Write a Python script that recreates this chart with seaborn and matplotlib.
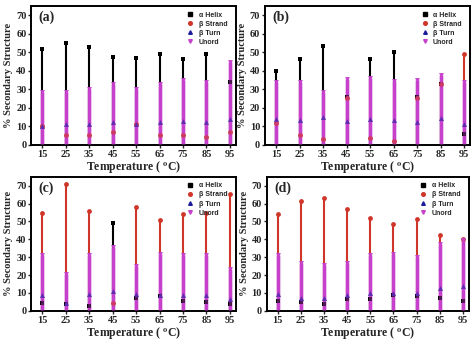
import matplotlib
matplotlib.use("Agg")
import matplotlib.pyplot as plt
from matplotlib.lines import Line2D
import numpy as np
import pandas as pd
import seaborn as sns

# Temperatures (°C)
temps = [15, 25, 35, 45, 55, 65, 75, 85, 95]

# Panel (a)
a_helix = [52, 55, 53, 47.5, 47, 49, 46.5, 49, 34]
a_strand = [10, 5.5, 5.5, 7, 11.5, 5.5, 5.5, 4.5, 7]
a_turn = [10, 11, 11.5, 12.5, 11.5, 12.5, 13, 12.5, 14]
a_unord = [28.5, 28.5, 30, 33, 30, 33, 35, 34, 45]

# Panel (b)
b_helix = [40, 46.5, 53.5, 26, 46.5, 50, 26, 33, 6]
b_strand = [12, 5.5, 3, 25.5, 3.5, 2, 25.5, 33, 49]
b_turn = [14, 13.5, 15, 13, 14, 13.5, 12.5, 14.5, 11]
b_unord = [34, 34, 28.5, 35.5, 36, 34.5, 35, 37.5, 34]

# Panel (c)
c_helix = [4.5, 4, 2.5, 49, 7, 8.5, 5.5, 5, 4]
c_strand = [55, 71, 56, 4.5, 58, 51, 54, 54.5, 65.5]
c_turn = [9, 4.5, 9.5, 11, 9.5, 9, 9, 9, 6.5]
c_unord = [31, 20.5, 31, 35.5, 25, 31.5, 31, 31, 23.5]

# Panel (d)
d_helix = [5.5, 5, 4, 6.5, 6.5, 9, 8.5, 7, 5.5]
d_strand = [54, 61.5, 63, 57, 52, 48.5, 51.5, 42.5, 40]
d_turn = [9.5, 7, 7, 9, 10, 10, 10, 13, 14]
d_unord = [31, 26.5, 25.5, 27, 31, 32, 30, 37.5, 39.5]

series_names = ["\u03b1 Helix", "\u03b2 Strand", "\u03b2 Turn", "Unord"]
panel_labels = ["(a)", "(b)", "(c)", "(d)"]
panels = [
    [a_helix, a_strand, a_turn, a_unord],
    [b_helix, b_strand, b_turn, b_unord],
    [c_helix, c_strand, c_turn, c_unord],
    [d_helix, d_strand, d_turn, d_unord],
]

colors = ["#000000", "#d0352a", "#1c1c9c", "#c640cc"]
markers = ["s", "o", "^", "v"]

sns.set_theme(style="white")
plt.rcParams["font.family"] = ["Liberation Serif", "DejaVu Serif"]
plt.rcParams["mathtext.fontset"] = "stix"
plt.rcParams["axes.linewidth"] = 1.4

fig = plt.figure(figsize=(4.74, 3.40), dpi=100)
positions = [
    [0.066, 0.574, 0.432, 0.408],
    [0.559, 0.574, 0.433, 0.408],
    [0.066, 0.086, 0.432, 0.394],
    [0.563, 0.086, 0.426, 0.394],
]

for idx, (vals, pos) in enumerate(zip(panels, positions)):
    ax = fig.add_axes(pos)
    df = pd.DataFrame({"T": temps * 4,
                       "value": sum(vals, []),
                       "series": np.repeat(series_names, len(temps))})

    # drop lines from zero for helix, strand, turn
    for k in range(3):
        ax.vlines(temps, 0, vals[k], color=colors[k], lw=1.5, zorder=1 + 0.1 * k)
    # unordered drop line (opaque under markers)
    ax.vlines(temps, 0, vals[3], color=colors[3], lw=2.5, zorder=2)
    # markers of the first three structures
    for k in range(3):
        sub = df[df["series"] == series_names[k]]
        sns.scatterplot(data=sub, x="T", y="value", marker=markers[k],
                        color=colors[k], s=12, linewidth=0, ax=ax,
                        zorder=3, legend=False)
    # translucent unordered line overlaid on the markers it passes
    ax.vlines(temps, 0, vals[3], color=colors[3], lw=2.5, alpha=0.4, zorder=4)
    sub = df[df["series"] == series_names[3]]
    sns.scatterplot(data=sub, x="T", y="value", marker="v", color=colors[3],
                    s=12, linewidth=0, ax=ax, zorder=5, legend=False)

    ax.set_xlim(10.3, 97.6)
    ax.set_ylim(0, 75)
    ax.set_xticks(temps)
    ax.set_yticks(range(0, 71, 10))
    ax.tick_params(axis="both", which="both", direction="out", length=2.5,
                   width=1.0, labelsize=7.5, pad=1.0, bottom=True, left=True)
    for lab in ax.get_xticklabels() + ax.get_yticklabels():
        lab.set_fontweight("bold")
    for sp in ax.spines.values():
        sp.set_color("black")
        sp.set_linewidth(1.4)

    ax.set_xlabel(r"Temperature ( $^{\mathbf{o}}$C)", fontsize=8.5,
                  fontweight="bold", labelpad=0)
    ax.set_ylabel("% Secondary Structure", fontsize=7.5, fontweight="bold",
                  labelpad=2)
    ax.text(0.035, 0.965, panel_labels[idx], transform=ax.transAxes,
            fontsize=10, fontweight="bold", va="top", ha="left")

    handles = [Line2D([], [], ls="none", marker=markers[k], color=colors[k],
                      markersize=2.6) for k in range(4)]
    ax.legend(handles, series_names, loc="upper right", frameon=False,
              prop={"family": ["Liberation Sans", "DejaVu Sans"], "size": 5,
                    "weight": "bold"},
              handlelength=0.8, handletextpad=0.8, labelspacing=0.3,
              borderaxespad=0.4, bbox_to_anchor=(0.985, 1.0))

fig.savefig("out.png", dpi=100)
